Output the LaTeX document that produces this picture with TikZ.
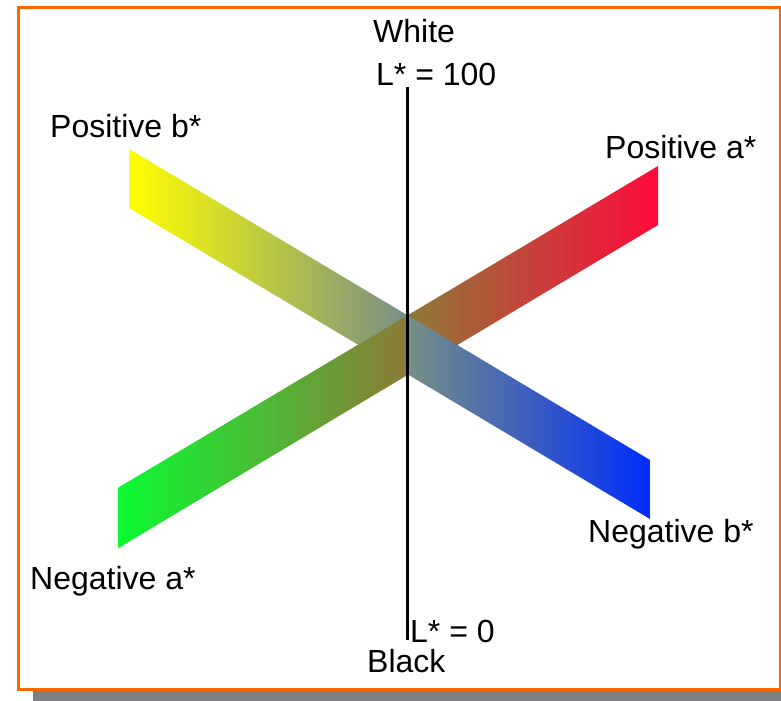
\documentclass[tikz,border=0pt]{standalone}
\usepackage{fontspec}
\setmainfont{Liberation Sans}
\begin{document}
\begin{tikzpicture}[x=1bp,y=-1bp,
  lbl/.style={inner sep=0pt, anchor=base west, font=\fontsize{32bp}{36bp}\selectfont},
  band/.style={draw=none}]
\definecolor{frameor}{RGB}{255,102,0}
\definecolor{shadowgray}{RGB}{128,128,128}
\definecolor{cyel}{RGB}{255,255,0}
\definecolor{cblue}{RGB}{0,45,250}
\definecolor{cgreen}{RGB}{10,250,50}
\definecolor{cred}{RGB}{255,10,60}
\useasboundingbox (0,0) rectangle (781,701);
% shadow
\fill[shadowgray] (33,689) rectangle (781,701);
% frame
\fill[white] (18,8) rectangle (780,689);
\draw[frameor, line width=3bp] (18,8) rectangle (780,689);
% a* band (green -> red)
\shade[band, left color=cgreen, right color=cred]
  (118,488) -- (658,166) -- (658,225) -- (118,548) -- cycle;
% b* band (yellow -> blue)
\shade[band, left color=cyel, right color=cblue]
  (129,149) -- (650,460) -- (650,519) -- (129,208) -- cycle;
% a* band on top on the left side
\begin{scope}
  \clip (100,0) rectangle (407,701);
  \shade[band, left color=cgreen, right color=cred]
    (118,488) -- (658,166) -- (658,225) -- (118,548) -- cycle;
\end{scope}
% L axis
\coordinate (ltop) at (407,87);
\coordinate (lbot) at (407,640);
\draw[black, line width=3bp] (ltop) -- (lbot);
% labels
\node[lbl] (white) at (373,43) {White};
\node[lbl] (l100) at (376,86) {L* = 100};
\node[lbl] (posb) at (50,138) {Positive b*};
\node[lbl] (posa) at (605,158) {Positive a*};
\node[lbl] (nega) at (30,589) {Negative a*};
\node[lbl] (negb) at (588,542) {Negative b*};
\node[lbl] (l0) at (410,642) {L* = 0};
\node[lbl] (black) at (367,672) {Black};
\end{tikzpicture}
\end{document}
